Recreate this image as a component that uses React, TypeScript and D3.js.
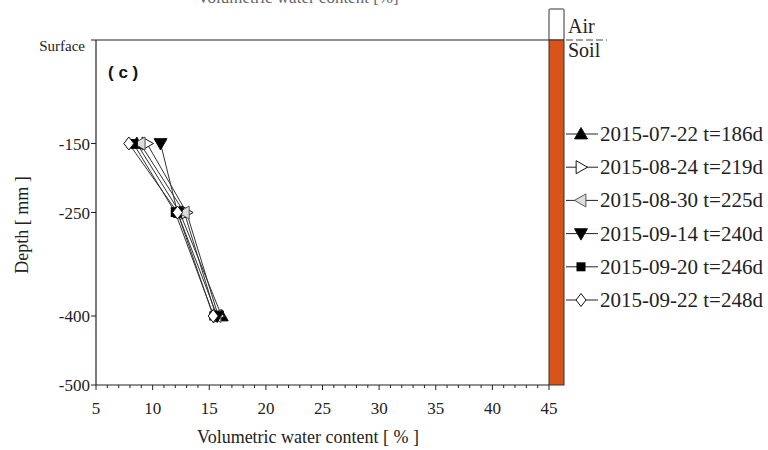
import React from "react";
import * as d3 from "d3";

const depths = [-150, -250, -400];
const seriesNames = [
  "2015-07-22 t=186d",
  "2015-08-24 t=219d",
  "2015-08-30 t=225d",
  "2015-09-14 t=240d",
  "2015-09-20 t=246d",
  "2015-09-22 t=248d",
];
const s0722 = [8.6, 12.4, 16.1];
const s0824 = [9.5, 13.0, 15.8];
const s0830 = [8.9, 12.8, 15.6];
const s0914 = [10.7, 12.2, 15.7];
const s0920 = [8.3, 12.0, 15.4];
const s0922 = [7.9, 12.2, 15.35];
const seriesValues = [s0722, s0824, s0830, s0914, s0920, s0922];
const xTicks = [5, 10, 15, 20, 25, 30, 35, 40, 45];
const yTicks = [-150, -250, -400, -500];

const W = 768, H = 450;
const left = 96, right = 549, top = 40, bottom = 385;
const FONT = "'Liberation Serif', 'Times New Roman', serif";

type MarkerKind = "up" | "right" | "left" | "down" | "square" | "diamond";
const markerKinds: MarkerKind[] = ["up", "right", "left", "down", "square", "diamond"];

function Marker({ kind, x, y }: { kind: MarkerKind; x: number; y: number }) {
  const r = 6.5;
  if (kind === "square") {
    return <rect x={x - 4.5} y={y - 4.5} width={9} height={9} fill="#000" />;
  }
  if (kind === "diamond") {
    return (
      <path d={`M${x},${y - 6.5}L${x + 5},${y}L${x},${y + 6.5}L${x - 5},${y}Z`} fill="#fff" stroke="#111" strokeWidth={1} />
    );
  }
  let d = "";
  if (kind === "up") d = `M${x},${y - r}L${x + r},${y + r * 0.75}L${x - r},${y + r * 0.75}Z`;
  if (kind === "down") d = `M${x},${y + r}L${x + r},${y - r * 0.75}L${x - r},${y - r * 0.75}Z`;
  if (kind === "right") d = `M${x + r},${y}L${x - r * 0.75},${y - r}L${x - r * 0.75},${y + r}Z`;
  if (kind === "left") d = `M${x - r},${y}L${x + r * 0.75},${y - r}L${x + r * 0.75},${y + r}Z`;
  const filled = kind === "up" || kind === "down";
  const fill = filled ? "#000" : kind === "left" ? "#ddd" : "#fff";
  const stroke = kind === "left" ? "#555" : "#111";
  return <path d={d} fill={fill} stroke={stroke} strokeWidth={1} />;
}

export default function App() {
  const x = d3.scaleLinear().domain([5, 45]).range([left, right]);
  const y = d3.scaleLinear().domain([0, -500]).range([top, bottom]);
  const minor = d3.range(5, 46, 1);
  const line = d3
    .line<[number, number]>()
    .x((d) => x(d[0]))
    .y((d) => y(d[1]));

  const legendY = (i: number) => 134 + i * 33.2;

  return (
    <svg
      width={W}
      height={H}
      style={{ position: "absolute", left: 0, top: 0, background: "#fff" }}
      fontFamily={FONT}
    >
      <rect width={W} height={H} fill="#fff" />
      {/* title cut off at the top edge, as in the reference */}
      <text x={298} y={3} textAnchor="middle" fontSize={17} fill="#666">
        Volumetric water content [%]
      </text>

      {/* axes */}
      <line x1={left} y1={top} x2={x(45)} y2={top} stroke="#222" strokeWidth={1.2} />
      <line x1={left} y1={top} x2={left} y2={bottom} stroke="#222" strokeWidth={1.2} />
      <line x1={left} y1={bottom} x2={x(45)} y2={bottom} stroke="#222" strokeWidth={1.2} />
      {minor.map((t) => (
        <line key={"m" + t} x1={x(t)} x2={x(t)} y1={bottom} y2={bottom + (t % 5 === 0 ? 5 : 3)} stroke="#222" strokeWidth={1} />
      ))}
      {xTicks.map((t) => (
        <text key={"xt" + t} x={x(t)} y={bottom + 29} textAnchor="middle" fontSize={17} fill="#222">
          {t}
        </text>
      ))}
      {yTicks.map((t) => (
        <g key={"yt" + t}>
          <line x1={left - 5} x2={left} y1={y(t)} y2={y(t)} stroke="#222" strokeWidth={1} />
          <text x={left - 6} y={y(t) + 6} textAnchor="end" fontSize={17} fill="#222">
            {t}
          </text>
        </g>
      ))}
      <line x1={left - 5} x2={left} y1={top} y2={top} stroke="#222" strokeWidth={1} />
      <text x={85} y={51} textAnchor="end" fontSize={15} fill="#222">
        Surface
      </text>
      <text x={308} y={443} textAnchor="middle" fontSize={18} fill="#222">
        Volumetric water content [ % ]
      </text>
      <text
        transform={`translate(28,${y(-268)}) rotate(-90)`}
        textAnchor="middle"
        fontSize={18}
        fill="#222"
      >
        Depth [ mm ]
      </text>
      <text x={108} y={78} fontSize={17} fontWeight="bold" fill="#111" fontFamily="Arial, sans-serif">
        ( c )
      </text>

      {/* soil bar */}
      <rect x={x(45)} y={9} width={15} height={top - 9} fill="#fff" stroke="#333" strokeWidth={1} rx={1} />
      <rect x={x(45)} y={top} width={15} height={bottom - top} fill="#D9541A" stroke="#333" strokeWidth={1} />
      <text x={568} y={33} fontSize={20} fill="#222">Air</text>
      <text x={568} y={57} fontSize={20} fill="#222">Soil</text>
      <line x1={566} x2={607} y1={40} y2={40} stroke="#444" strokeWidth={1} strokeDasharray="7,3" />

      {/* series */}
      {seriesValues.map((vals, i) => (
        <path
          key={"l" + i}
          d={line(vals.map((v, j) => [v, depths[j]] as [number, number])) || ""}
          fill="none"
          stroke="#333"
          strokeWidth={1}
        />
      ))}
      {seriesValues.map((vals, i) =>
        vals.map((v, j) => <Marker key={`mk${i}-${j}`} kind={markerKinds[i]} x={x(v)} y={y(depths[j])} />)
      )}

      {/* legend */}
      {seriesNames.map((name, i) => (
        <g key={"lg" + i}>
          <line x1={566} x2={598} y1={legendY(i)} y2={legendY(i)} stroke="#222" strokeWidth={1} />
          <Marker kind={markerKinds[i]} x={581} y={legendY(i)} />
          <text x={600} y={legendY(i) + 7} fontSize={21} fill="#222">
            {name}
          </text>
        </g>
      ))}
    </svg>
  );
}
